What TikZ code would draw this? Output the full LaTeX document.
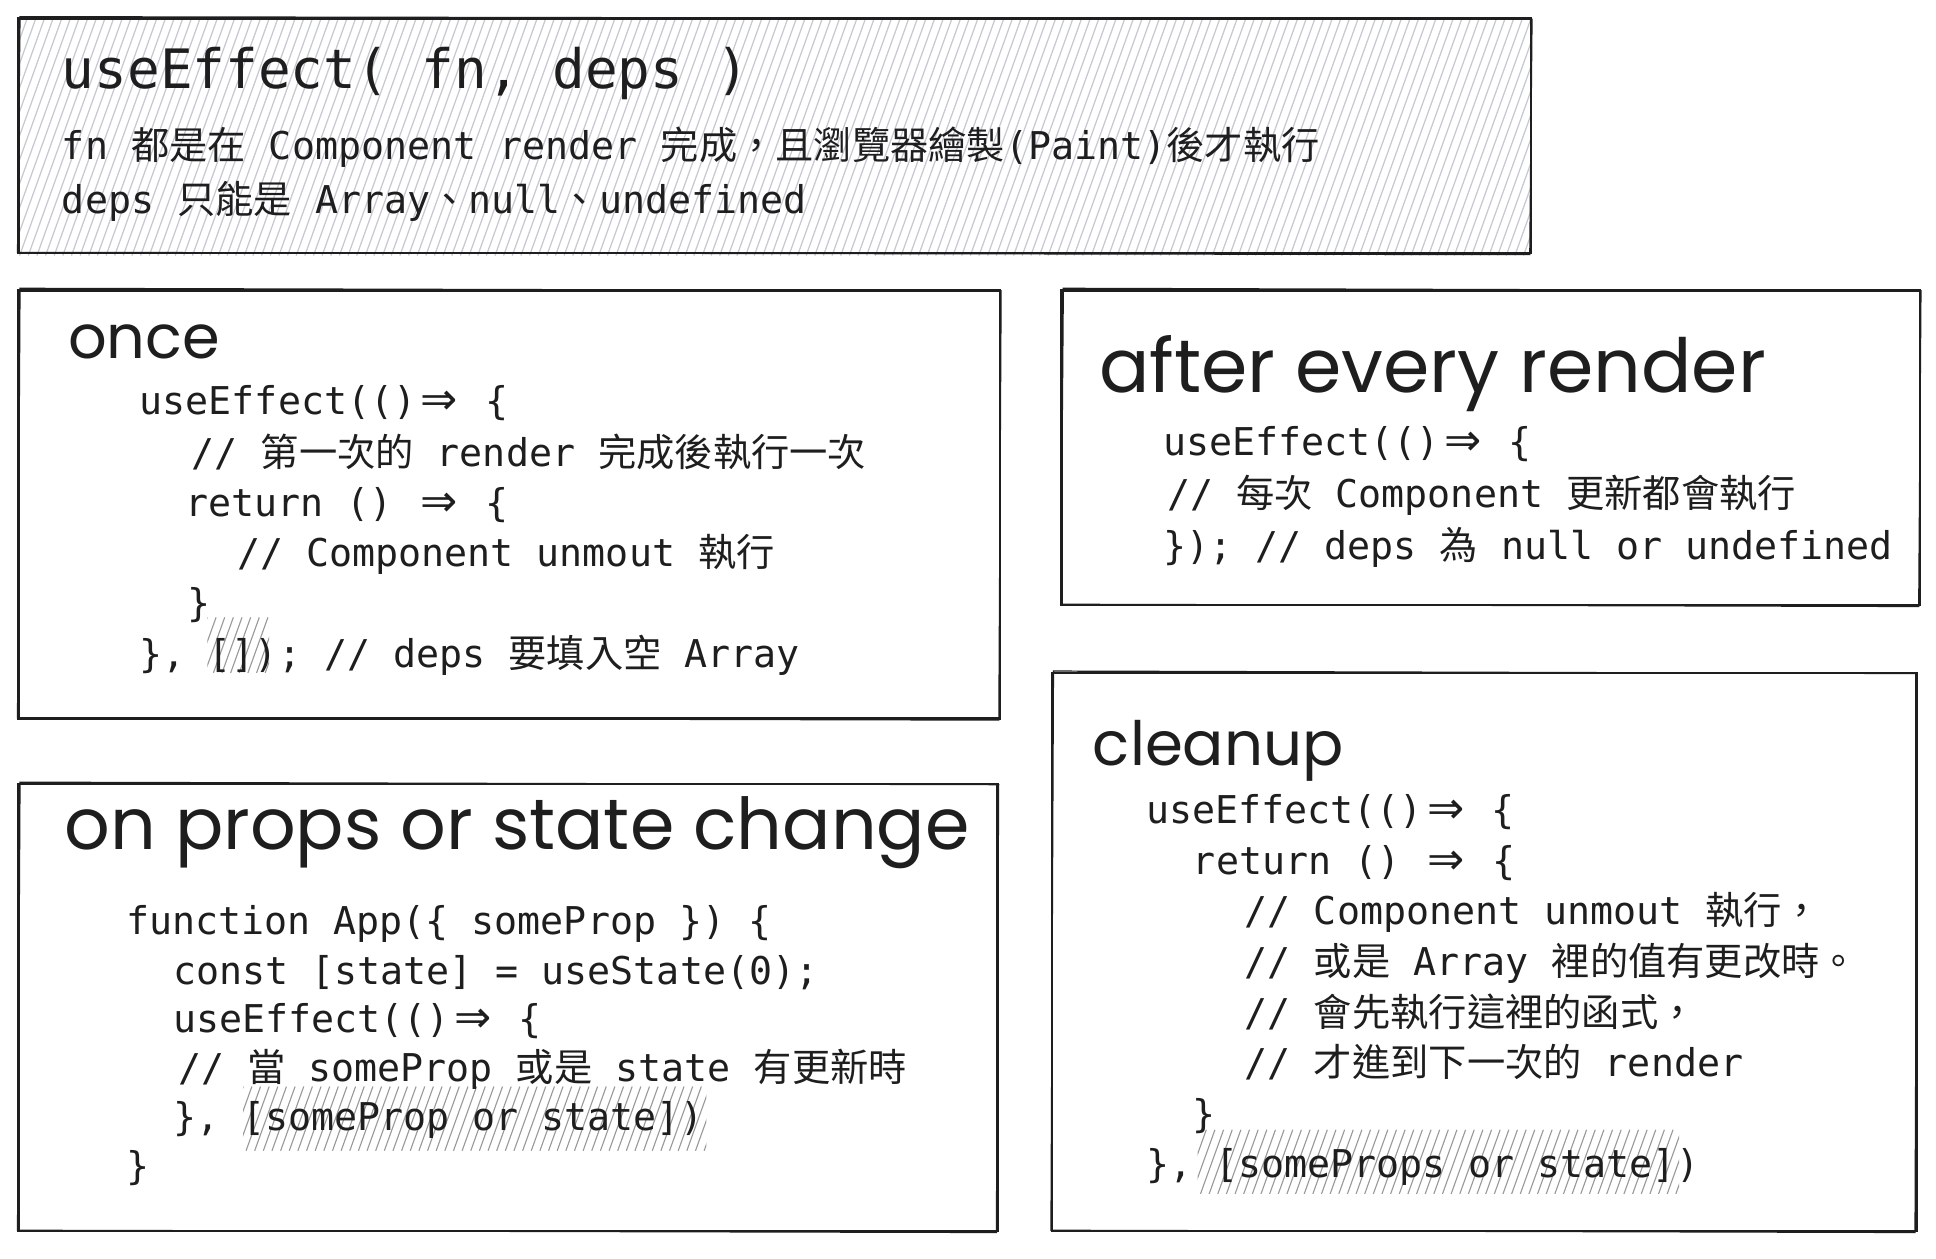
\documentclass[tikz,border=0pt]{standalone}
\usepackage{fontspec}
\usepackage{graphicx}
\setmonofont{DejaVu Sans Mono}
\newfontfamily\cjk{Noto Sans CJK TC}
\newfontfamily\hand{Poppins}
\newfontfamily\djs{DejaVu Sans}
\newcommand\zh[1]{{\cjk #1}}
\newcommand\arr{\makebox[1.204em]{{\djs\fontsize{36}{36}\selectfont ⇒}}}
\definecolor{ink}{HTML}{1E1E1E}
\definecolor{hatchlight}{HTML}{C4C9D2}
\definecolor{hatchdark}{HTML}{999999}
\newcommand\myhatch[6]{%
  \begin{scope}
    \clip (#1,#2) rectangle (#3,#4);
    \pgfmathsetmacro\hhh{#4-#2}
    \pgfmathtruncatemacro\nnn{(#3-#1+0.36*\hhh)/#5+1}
    \foreach \i in {0,...,\nnn}{
      \draw[#6] ({#1-0.36*\hhh+\i*#5},#4) -- ++({0.36*\hhh},{-\hhh});
    }
  \end{scope}}
\newcommand\sketchbox[4]{%
  \draw[boxline] (#1,#2) rectangle (#3,#4);
  \draw[boxline2] ({#1+1.2},{#2-1.5}) -- ({#3+0.8},{#2+0.5}) -- ({#3-1.0},{#4+1.2}) -- ({#1-0.8},{#4-0.6}) -- cycle;}
\begin{document}
\begin{tikzpicture}[x=1pt,y=-1pt,
  code/.style={anchor=base west,inner sep=0pt,text=ink,font=\ttfamily\fontsize{31}{31}\selectfont},
  bigcode/.style={anchor=base west,inner sep=0pt,text=ink,font=\ttfamily\fontsize{44}{44}\selectfont},
  title/.style={anchor=base west,inner sep=0pt,text=ink,font=\hand\fontsize{52}{52}\selectfont},
  boxline/.style={draw=ink,line width=2.2pt},
  boxline2/.style={draw=ink,line width=1pt},
  lighthatch/.style={draw=hatchlight,line width=1pt},
  darkhatch/.style={draw=hatchdark,line width=0.9pt}]
\useasboundingbox (0,0) rectangle (1568,1019.6);
\fill[white] (0,0) rectangle (1568,1019.6);

% ---------- top box ----------
\myhatch{15}{15}{1240}{207}{7}{lighthatch}
\sketchbox{15}{15}{1240}{205}
\node[bigcode] (t0) at (50,72) {useEffect( fn, deps )};
\node[code] (t1) at (50,129) {fn \zh{都是在} Component render \zh{完成，且瀏覽器繪製}(Paint)\zh{後才執行}};
\node[code] (t2) at (50,173) {deps \zh{只能是} Array\zh{、}null\zh{、}undefined};

% ---------- once ----------
\sketchbox{15}{235}{810}{582}
\myhatch{168}{500}{218}{545}{7}{darkhatch}
\node[title] (onceT) at (55,290) {\resizebox{123pt}{!}{once}};
\node[code] (o1) at (113,336) {useEffect(()\arr\ \{};
\node[code] (o2) at (155,378) {// \zh{第一次的} render \zh{完成後執行一次}};
\node[code] (o3) at (150,418) {return () \arr\ \{};
\node[code] (o4) at (192,459) {// Component unmout \zh{執行}};
\node[code] (o5) at (152,499) {\}};
\node[code] (o6) at (113,541) {\}, []); // deps \zh{要填入空} Array};

% ---------- after every render ----------
\sketchbox{860}{235}{1555}{490}
\node[title] (afterT) at (890,318) {\resizebox{540pt}{!}{after every render}};
\node[code] (a1) at (942,369) {useEffect(()\arr\ \{};
\node[code] (a2) at (945,411) {// \zh{每次} Component \zh{更新都會執行}};
\node[code] (a3) at (942,453) {\}); // deps \zh{為} null or undefined};

% ---------- on props or state change ----------
\sketchbox{15}{635}{808}{997}
\myhatch{197}{880}{572}{932}{7}{darkhatch}
\node[title] (propsT) at (52,688) {\resizebox{733pt}{!}{on props or state change}};
\node[code] (p1) at (102,757) {function App(\{ someProp \}) \{};
\node[code] (p2) at (140,797) {const [state] = useState(0);};
\node[code] (p3) at (140,836) {useEffect(()\arr\ \{};
\node[code] (p4) at (144,876) {// \zh{當} someProp \zh{或是} state \zh{有更新時}};
\node[code] (p5) at (140,916) {\}, [someProp or state])};
\node[code] (p6) at (102,955) {\}};

% ---------- cleanup ----------
\sketchbox{852}{545}{1552}{997}
\myhatch{970}{915}{1360}{967}{7}{darkhatch}
\node[title] (cleanT) at (885,620) {\resizebox{203pt}{!}{cleanup}};
\node[code] (c1) at (928,667) {useEffect(()\arr\ \{};
\node[code] (c2) at (966,708) {return () \arr\ \{};
\node[code] (c3) at (1008,749) {// Component unmout \zh{執行，}};
\node[code] (c4) at (1008,790) {// \zh{或是} Array \zh{裡的值有更改時。}};
\node[code] (c5) at (1008,831) {// \zh{會先執行這裡的函式，}};
\node[code] (c6) at (1008,872) {// \zh{才進到下一次的} render};
\node[code] (c7) at (966,913) {\}};
\node[code] (c8) at (928,954) {\}, [someProps or state])};
\end{tikzpicture}
\end{document}
